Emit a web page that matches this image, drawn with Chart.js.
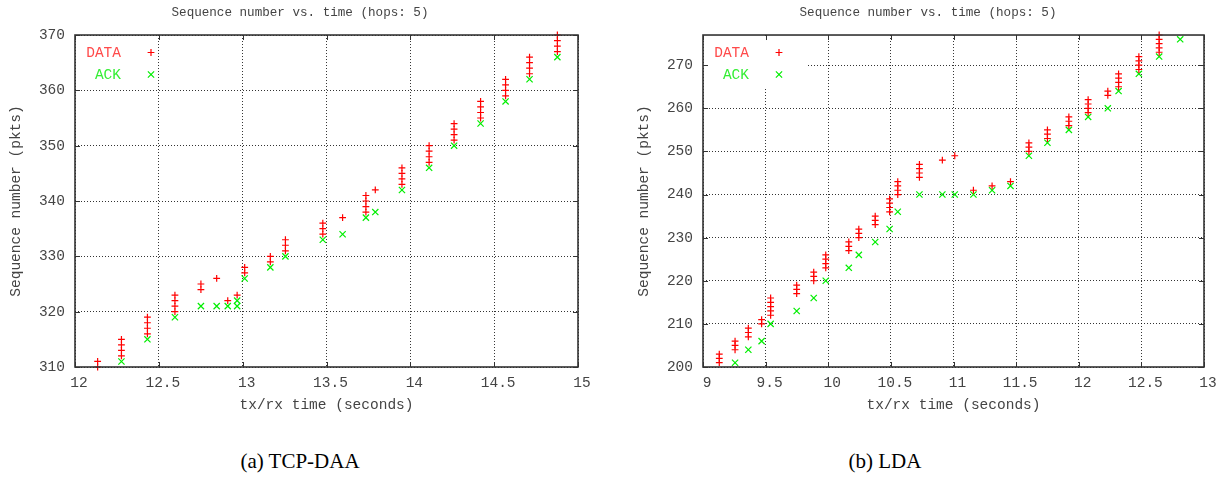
<!DOCTYPE html>
<html>
<head>
<meta charset="utf-8">
<script src="https://cdn.jsdelivr.net/npm/chart.js@4/dist/chart.umd.min.js"></script>
<style>
  html, body { margin: 0; padding: 0; background: #fff; overflow: hidden; }
  #wrap { position: relative; width: 1223px; height: 480px; }
  .panel { position: absolute; top: 0; width: 600px; height: 414px; }
  .cap { position: absolute; top: 449px; line-height: 24px; font-family: "Liberation Serif", "Times New Roman", serif;
         font-size: 21px; color: #000; transform: translateX(-50%); white-space: nowrap; }
</style>
</head>
<body>
<div id="wrap">
  <div class="panel" style="left:0"><canvas id="daa" width="600" height="414"></canvas></div>
  <div class="panel" style="left:628px"><canvas id="lda" width="600" height="414"></canvas></div>
  <div class="cap" style="left:300px">(a) TCP-DAA</div>
  <div class="cap" style="left:885px">(b) LDA</div>
</div>
<script>
// ---- TCP-DAA: transmit times of DATA packets and the sequence numbers sent at each time
const daaDataTimes = [12.135, 12.277, 12.432, 12.596, 12.751, 12.845, 12.911, 12.967, 13.012, 13.165, 13.255,
                      13.478, 13.596, 13.735, 13.791, 13.950, 14.112, 14.261, 14.419, 14.568, 14.711, 14.877];
const daaDataSeqs  = [[311, 310], [315, 314, 313, 312], [319, 318, 317, 316], [323, 322, 321, 320], [325, 324],
                      [326], [322], [323], [328, 327], [330, 329], [333, 332, 331],
                      [336, 335, 334], [337], [341, 340, 339, 338], [342], [346, 345, 344, 343],
                      [350, 349, 348, 347], [354, 353, 352, 351], [358, 357, 356, 355], [362, 361, 360, 359],
                      [366, 365, 364, 363], [370, 369, 368, 367]];
// ---- TCP-DAA: receive times of ACKs and the acknowledged sequence numbers
const daaAckTimes = [12.277, 12.432, 12.596, 12.751, 12.845, 12.911, 12.967, 13.012, 13.165, 13.255,
                     13.478, 13.596, 13.735, 13.791, 13.950, 14.112, 14.261, 14.419, 14.568, 14.711, 14.877];
const daaAckSeqs  = [[311], [315], [319], [321], [321], [321], [321, 322], [326], [328], [330],
                     [333], [334], [337], [338], [342], [346], [350], [354], [358], [362], [366]];

// ---- LDA
const ldaDataTimes = [9.13, 9.256, 9.362, 9.468, 9.54, 9.748, 9.884, 9.98, 10.164, 10.244, 10.375, 10.49, 10.555,
                      10.728, 10.911, 11.01, 11.159, 11.308, 11.455, 11.602, 11.75, 11.921, 12.075, 12.232,
                      12.318, 12.48, 12.642];
const ldaDataSeqs  = [[203, 202, 201], [206, 205, 204], [209, 208, 207], [211, 210], [216, 215, 214, 213, 212],
                      [219, 218, 217], [222, 221, 220], [226, 225, 224, 223], [229, 228, 227], [232, 231, 230],
                      [235, 234, 233], [239, 238, 237, 236], [243, 242, 241, 240], [247, 246, 245, 244],
                      [248], [249], [241], [242], [243], [252, 251, 250], [255, 254, 253], [258, 257, 256],
                      [262, 261, 260, 259], [264, 263], [268, 267, 266, 265], [272, 271, 270, 269],
                      [277, 276, 275, 274, 273]];
const ldaAckTimes = [9.256, 9.362, 9.468, 9.54, 9.748, 9.884, 9.98, 10.164, 10.244, 10.375, 10.49, 10.555,
                     10.728, 10.911, 11.01, 11.159, 11.308, 11.455, 11.602, 11.75, 11.921, 12.075, 12.232,
                     12.318, 12.48, 12.642, 12.81];
const ldaAckSeqs  = [[201], [204], [206], [210], [213], [216], [220], [223], [226], [229], [232], [236],
                     [240], [240], [240], [240], [241], [242], [249], [252], [255], [258], [260],
                     [264], [268], [272], [276]];

// ---- axis ranges and labels
const daaXRange = [12, 15], daaYRange = [310, 370];
const ldaXRange = [9, 13],  ldaYRange = [200, 277];
const xStep = 0.5, yStep = 10;
const titleText = 'Sequence number vs. time (hops: 5)';
const xTitle = 'tx/rx time (seconds)';
const yTitle = 'Sequence number (pkts)';
const seriesNames = ['DATA', 'ACK'];

const MONO = '"Liberation Mono", "DejaVu Sans Mono", monospace';
const TEXT = '#444';
const GRID = 'rgba(0,0,0,0.8)';

function toPoints(times, seqs) {
  const pts = [];
  times.forEach((t, i) => seqs[i].forEach(s => pts.push({ x: t, y: s })));
  return pts;
}

// border, inward tick marks and key (text then symbol)
const framePlugin = {
  id: 'frame',
  afterDraw(chart, args, opts) {
    const { ctx, chartArea: a, scales } = chart;
    ctx.save();
    if (opts.keyOpaque) {
      ctx.fillStyle = '#fff';
      ctx.fillRect(a.left + 1, a.top + 1, 103, 51);
    }
    ctx.strokeStyle = '#333';
    ctx.lineWidth = 1;
    ctx.beginPath();
    scales.x.ticks.forEach(t => {
      const px = Math.round(scales.x.getPixelForValue(t.value)) + 0.5;
      ctx.moveTo(px, a.bottom); ctx.lineTo(px, a.bottom - 5);
      ctx.moveTo(px, a.top); ctx.lineTo(px, a.top + 5);
    });
    scales.y.ticks.forEach(t => {
      const py = Math.round(scales.y.getPixelForValue(t.value)) + 0.5;
      ctx.moveTo(a.left, py); ctx.lineTo(a.left + 5, py);
      ctx.moveTo(a.right, py); ctx.lineTo(a.right - 5, py);
    });
    ctx.stroke();
    ctx.lineWidth = 1.6;
    ctx.strokeRect(a.left, a.top, a.right - a.left, a.bottom - a.top);

    // key
    ctx.font = '14.5px ' + MONO;
    ctx.textAlign = 'right';
    ctx.textBaseline = 'middle';
    chart.data.datasets.forEach((ds, i) => {
      const y = a.top + 17.5 + i * 22;
      ctx.fillStyle = opts.keyColors[i];
      ctx.fillText(ds.label, a.left + 46, y + 1);
      ctx.strokeStyle = ds.borderColor;
      ctx.lineWidth = ds.borderWidth;
      Chart.helpers.drawPoint(ctx, { pointStyle: ds.pointStyle, radius: ds.pointRadius,
                                     borderWidth: ds.borderWidth, rotation: 0 }, a.left + 76, y);
    });
    ctx.restore();
  }
};

function makeChart(id, xr, yr, dataPts, ackPts, padRight, keyOpaque) {
  return new Chart(document.getElementById(id), {
    type: 'scatter',
    data: {
      datasets: [
        { label: seriesNames[0], data: dataPts, pointStyle: 'cross', pointRadius: 3.4, borderWidth: 1.2,
          borderColor: '#ff0000', backgroundColor: '#ff0000', clip: false },
        { label: seriesNames[1], data: ackPts, pointStyle: 'crossRot', pointRadius: 4.4, borderWidth: 1.2,
          borderColor: '#00ee00', backgroundColor: '#00ee00', clip: false }
      ]
    },
    options: {
      responsive: false,
      animation: false,
      devicePixelRatio: 1,
      events: [],
      layout: { padding: 0 },
      plugins: {
        legend: { display: false },
        tooltip: { enabled: false },
        title: { display: true, text: titleText, color: TEXT,
                 font: { family: MONO, size: 12.6, weight: 'normal' }, padding: { top: 5.5, bottom: 14.4 } },
        frame: { keyOpaque, keyColors: ['#ff4a4a', '#33ee33'] }
      },
      scales: {
        x: {
          type: 'linear', min: xr[0], max: xr[1],
          afterFit: s => { s.height = 47; },
          ticks: { stepSize: xStep, includeBounds: false, color: TEXT, padding: 7, labelOffset: 4,
                   font: { family: MONO, size: 14.5 }, callback: v => String(v) },
          grid: { color: GRID, lineWidth: 1, drawTicks: false },
          border: { display: false, dash: [1, 2] },
          title: { display: true, text: xTitle, color: TEXT, font: { family: MONO, size: 14.5 },
                   padding: { top: 0, bottom: 0 } }
        },
        y: {
          type: 'linear', min: yr[0], max: yr[1],
          afterFit: s => { s.width = 75; },
          ticks: { stepSize: yStep, includeBounds: false, color: TEXT, padding: 10,
                   font: { family: MONO, size: 14.5 }, callback: v => String(v) },
          grid: { color: GRID, lineWidth: 1, drawTicks: false },
          border: { display: false, dash: [1, 2] },
          title: { display: true, text: yTitle, color: TEXT, font: { family: MONO, size: 14.5 },
                   padding: { top: 7, bottom: 0 } }
        },
        // empty right-hand axis that only reserves the margin beside the plot
        gap: {
          type: 'linear', position: 'right', min: yr[0], max: yr[1],
          afterFit: s => { s.width = padRight; },
          ticks: { display: false },
          grid: { display: false, drawTicks: false },
          border: { display: false }
        }
      }
    },
    plugins: [framePlugin]
  });
}

makeChart('daa', daaXRange, daaYRange, toPoints(daaDataTimes, daaDataSeqs), toPoints(daaAckTimes, daaAckSeqs), 22, false);
makeChart('lda', ldaXRange, ldaYRange, toPoints(ldaDataTimes, ldaDataSeqs), toPoints(ldaAckTimes, ldaAckSeqs), 24, true);
</script>
</body>
</html>
